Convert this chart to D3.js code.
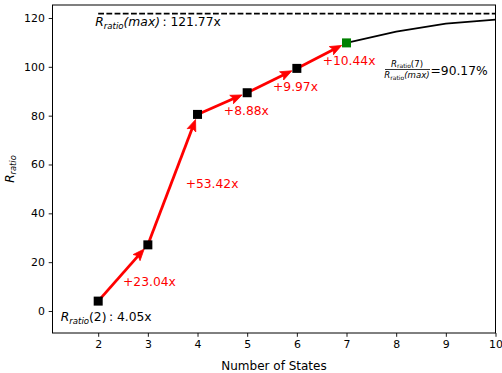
<!DOCTYPE html>
<html><head><meta charset="utf-8">
<script src="https://cdn.jsdelivr.net/npm/d3@7"></script>
<style>
html,body{margin:0;padding:0;background:#fff;}
svg{display:block;font-family:"DejaVu Sans",sans-serif;}
</style></head>
<body><svg id="c" width="502" height="373"></svg>
<script>
// ---- data ----
const states = [2, 3, 4, 5, 6, 7];
const ratios = [4.05, 27.09, 80.51, 89.39, 99.36, 109.80];
const tailStates = [7, 8, 9, 10];
const tailRatios = [109.80, 114.4, 117.7, 119.3];
const maxRatio = 121.77;
const xTicks = [2, 3, 4, 5, 6, 7, 8, 9, 10];
const yTicks = [0, 20, 40, 60, 80, 100, 120];
const xLabel = "Number of States";

// ---- layout ----
const svg = d3.select("#c");
const L = 52.5, R = 495.5, T = 5, B = 333;
const x = d3.scaleLinear().domain([1.08, 10]).range([L, R]);
const y = d3.scaleLinear().domain([-9.01, 125.32]).range([B, T]);
const FS = 12.3, TFS = 10.9, LFS = 12;

// math-like text helper
function mtext(g, parts, fs) {
  const t = g.append("text").attr("font-size", fs);
  let shift = 0;
  parts.forEach(p => {
    const s = p.sub ? 0.7 : 1;
    const target = p.sub ? fs * 0.22 : 0;
    t.append("tspan").text(p.t)
      .attr("font-size", fs * s)
      .attr("font-style", p.it ? "italic" : "normal")
      .attr("dy", target - shift);
    shift = target;
  });
  return t;
}

// axes
const xAxis = d3.axisBottom(x).tickValues(xTicks).tickSize(3.8).tickPadding(3.8).tickFormat(d3.format("d"));
const yAxis = d3.axisLeft(y).tickValues(yTicks).tickSize(3.8).tickPadding(3.8).tickFormat(d3.format("d"));
const gx = svg.append("g").attr("transform", `translate(0,${B})`).call(xAxis);
const gy = svg.append("g").attr("transform", `translate(${L},0)`).call(yAxis);
[gx, gy].forEach(g => {
  g.select(".domain").remove();
  g.selectAll("text").attr("font-size", TFS).attr("font-family", "DejaVu Sans").attr("fill", "#000");
  g.selectAll("line").attr("stroke", "#000").attr("stroke-width", 0.9);
});
svg.append("rect").attr("x", L).attr("y", T).attr("width", R - L).attr("height", B - T)
  .attr("fill", "none").attr("stroke", "#000").attr("stroke-width", 1);

// axis labels
svg.append("text").attr("x", (L + R) / 2).attr("y", 370).attr("text-anchor", "middle")
  .attr("font-size", LFS).text(xLabel);
const yl = mtext(svg.append("g").attr("transform", `translate(13.5,${(T + B) / 2}) rotate(-90)`),
  [{t: "R", it: true}, {t: "ratio", it: true, sub: true}], LFS);
yl.attr("text-anchor", "middle");

// dashed max line
svg.append("line").attr("x1", x(2)).attr("x2", x(10)).attr("y1", y(maxRatio)).attr("y2", y(maxRatio))
  .attr("stroke", "#000").attr("stroke-width", 1.8).attr("stroke-dasharray", "5.8,2.4");
mtext(svg.append("g").attr("transform", `translate(${x(2) - 3},${y(maxRatio) + 12.8})`),
  [{t: "R", it: true}, {t: "ratio", it: true, sub: true}, {t: "(max)", it: true}, {t: "\u2009: 121.77x"}], FS);

// tail line
svg.append("path").datum(tailStates.map((s, i) => [s, tailRatios[i]]))
  .attr("d", d3.line().x(d => x(d[0])).y(d => y(d[1])))
  .attr("fill", "none").attr("stroke", "#000").attr("stroke-width", 1.7);

// arrows
const pts = states.map((s, i) => [x(s), y(ratios[i])]);
const ag = svg.append("g");
const labelOff = [[0, 13.5], [13, 8.5], [1.5, 11.5], [1, 10], [1, 9.5]];
for (let i = 0; i < pts.length - 1; i++) {
  const [x0, y0] = pts[i], [x1, y1] = pts[i + 1];
  const dx = x1 - x0, dy = y1 - y0, len = Math.hypot(dx, dy);
  const ux = dx / len, uy = dy / len;
  const tipX = x1 - ux * 5.5, tipY = y1 - uy * 5.5;
  const hl = 11.5, hw = 4.6;
  const bx = tipX - ux * hl, by = tipY - uy * hl;
  ag.append("line").attr("x1", x0).attr("y1", y0).attr("x2", bx + ux * 3).attr("y2", by + uy * 3)
    .attr("stroke", "#ff0000").attr("stroke-width", 2.8);
  const nx = -uy, ny = ux;
  const notchX = tipX - ux * hl * 0.8, notchY = tipY - uy * hl * 0.8;
  ag.append("path").attr("d",
    `M${tipX},${tipY}L${bx + nx * hw},${by + ny * hw}L${notchX},${notchY}L${bx - nx * hw},${by - ny * hw}Z`)
    .attr("fill", "#ff0000").attr("stroke", "#ff0000").attr("stroke-width", 0.8).attr("stroke-linejoin", "miter");
  const gain = (ratios[i + 1] - ratios[i]).toFixed(2);
  svg.append("text").attr("x", (x0 + x1) / 2 + labelOff[i][0]).attr("y", (y0 + y1) / 2 + labelOff[i][1])
    .attr("font-size", FS).attr("fill", "#ff0000").text(`+${gain}x`);
}

// markers
const ms = 9;
svg.append("g").selectAll("rect").data(states).join("rect")
  .attr("x", (d, i) => x(d) - ms / 2).attr("y", (d, i) => y(ratios[i]) - ms / 2)
  .attr("width", ms).attr("height", ms)
  .attr("fill", (d, i) => i === states.length - 1 ? "#008000" : "#000");

// start label
mtext(svg.append("g").attr("transform", `translate(${x(2) - 37.5},${y(ratios[0]) + 20})`),
  [{t: "R", it: true}, {t: "ratio", it: true, sub: true}, {t: "(2)"}, {t: "\u2009: 4.05x"}], FS);

// fraction annotation
const fs2 = 8.6;
const fcx = 407;
const num = mtext(svg.append("g").attr("transform", `translate(${fcx},66.5)`),
  [{t: "R", it: true}, {t: "ratio", sub: true}, {t: "(7)"}], fs2);
num.attr("text-anchor", "middle");
svg.append("line").attr("x1", 385).attr("x2", 430).attr("y1", 69.5).attr("y2", 69.5)
  .attr("stroke", "#000").attr("stroke-width", 0.8);
const den = mtext(svg.append("g").attr("transform", `translate(${fcx},78.3)`),
  [{t: "R", it: true}, {t: "ratio", sub: true}, {t: "(max)", it: true}], fs2);
den.attr("text-anchor", "middle");
const pct = (ratios[ratios.length - 1] / maxRatio * 100).toFixed(2);
svg.append("text").attr("x", 430.5).attr("y", 75).attr("font-size", FS).text(`=${pct}%`);
</script></body></html>
